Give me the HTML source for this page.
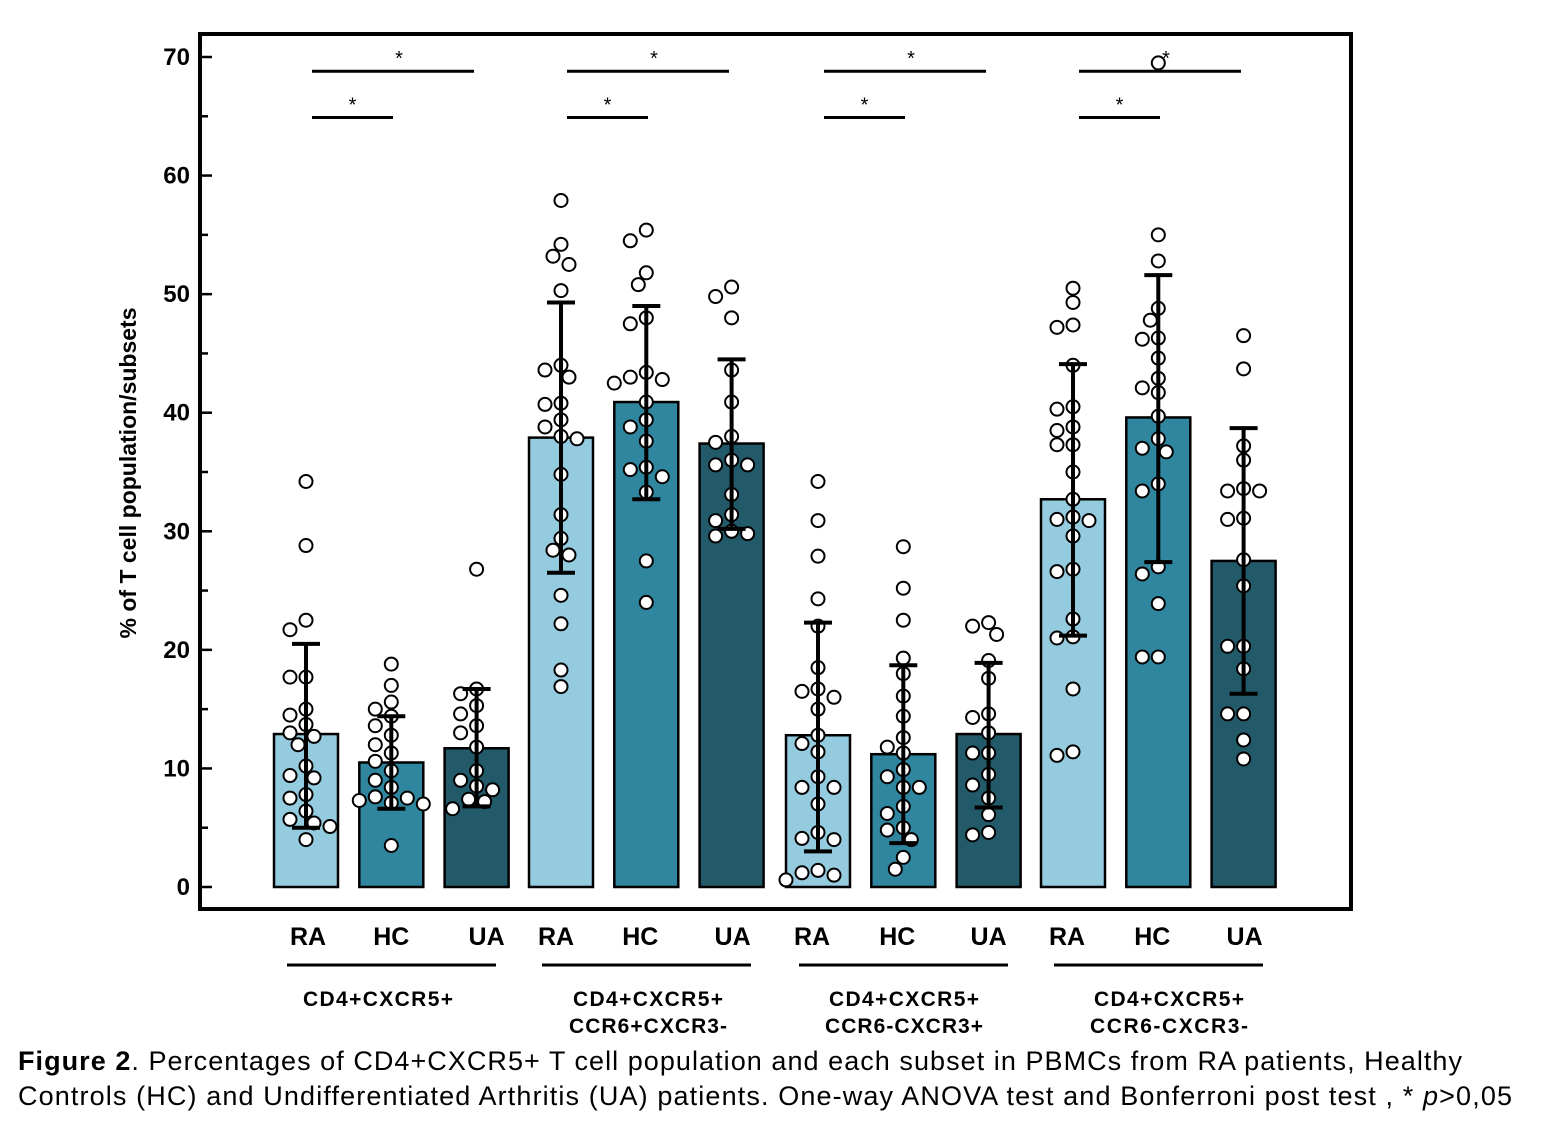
<!DOCTYPE html>
<html><head><meta charset="utf-8"><style>
body{margin:0;background:#fff;}
svg text{font-family:"Liberation Sans",Arial,sans-serif;}
</style></head><body>
<svg width="1553" height="1123" viewBox="0 0 1553 1123" xmlns="http://www.w3.org/2000/svg">
<g id="plot"></g>
<text x="18" y="1070" font-size="27" textLength="1444" lengthAdjust="spacing"><tspan font-weight="bold">Figure 2</tspan>. Percentages of CD4+CXCR5+  T cell population and each subset in PBMCs from RA patients, Healthy</text>
<text x="18" y="1105" font-size="27" textLength="1494" lengthAdjust="spacing">Controls (HC) and  Undifferentiated  Arthritis (UA) patients. One-way ANOVA  test and Bonferroni post test ,  * <tspan font-style="italic">p</tspan>&gt;0,05</text>
</svg>
<script>
const groups = ["CD4+CXCR5+", "CD4+CXCR5+|CCR6+CXCR3-", "CD4+CXCR5+|CCR6-CXCR3+", "CD4+CXCR5+|CCR6-CXCR3-"];
const cohorts = ["RA", "HC", "UA"];
const yTicks = [0, 10, 20, 30, 40, 50, 60, 70];
const means = [12.9, 10.5, 11.7, 37.9, 40.9, 37.4, 12.8, 11.2, 12.9, 32.7, 39.6, 27.5];
const errLow = [5.0, 6.6, 6.8, 26.5, 32.7, 30.2, 3.0, 3.7, 6.7, 21.2, 27.4, 16.3];
const errHigh = [20.5, 14.4, 16.7, 49.3, 49.0, 44.5, 22.3, 18.7, 18.9, 44.1, 51.6, 38.7];
const points = [
 [34.2,28.8,22.5,21.7,17.7,17.7,15.0,14.5,13.7,13.0,12.7,12.0,10.2,9.4,9.2,7.8,7.5,6.4,5.7,5.4,5.1,4.0],
 [18.8,17.0,15.6,15.0,14.4,13.6,12.8,12.0,11.3,10.6,9.8,9.0,8.4,7.6,7.5,7.3,7.1,7.0,3.5],
 [26.8,16.7,16.3,15.3,14.6,13.6,13.0,11.8,9.8,9.0,8.5,8.2,7.4,7.2,6.6],
 [57.9,54.2,53.2,52.5,50.3,44.0,43.6,43.0,40.8,40.7,39.4,38.8,38.0,37.8,34.8,31.4,29.4,28.4,28.0,24.6,22.2,18.3,16.9],
 [55.4,54.5,51.8,50.8,48.0,47.5,43.4,43.0,42.8,42.5,40.9,39.4,38.8,37.6,35.4,35.2,34.6,33.3,27.5,24.0],
 [50.6,49.8,48.0,43.6,40.9,38.0,37.5,36.0,35.6,35.6,33.1,31.4,30.9,30.0,29.8,29.6],
 [34.2,30.9,27.9,24.3,22.0,18.5,16.7,16.5,16.0,15.0,12.8,12.1,11.4,9.3,8.4,8.4,7.0,4.6,4.1,4.0,1.4,1.2,1.0,0.6],
 [28.7,25.2,22.5,19.3,18.0,16.1,14.4,12.6,11.8,11.3,9.9,9.3,8.4,8.4,6.8,6.2,5.0,4.8,4.0,2.5,1.5],
 [22.3,22.0,21.3,19.1,17.6,14.6,14.3,13.0,11.3,11.3,9.5,8.6,7.5,6.1,4.6,4.4],
 [50.5,49.3,47.4,47.2,44.0,40.5,40.3,38.8,38.5,37.3,37.3,35.0,32.7,31.2,31.0,30.9,29.6,26.8,26.6,22.6,21.1,21.0,16.7,11.4,11.1],
 [69.5,55.0,52.8,48.8,47.8,46.3,46.2,44.6,42.9,42.1,41.7,39.7,37.8,37.0,36.7,34.0,33.4,27.0,26.4,23.9,19.4,19.4],
 [46.5,43.7,37.2,36.0,33.6,33.4,33.4,31.1,31.0,27.6,25.4,20.3,20.3,18.4,14.6,14.6,12.4,10.8]
];
const sigLevels = [68.8, 64.9];
const sigLabels = ["*", "*"];

const NS="http://www.w3.org/2000/svg";
const g=document.getElementById('plot');
const y0=887, pxPer=830/70;
const yS=v=>y0-v*pxPer;
const groupStart=[306,561,818,1073], step=85.3;
const xS=i=>groupStart[Math.floor(i/3)]+(i%3)*step;
const labelOff=[[2,0,10],[-5,-6,1],[-6,-6,0],[-6,-6,1]];
const colors=["#95cbdf","#30869f","#235a69"];
function mk(tag,attrs,parent){const e=document.createElementNS(NS,tag);for(const k in attrs)e.setAttribute(k,attrs[k]);(parent||g).appendChild(e);return e;}

const fr=mk('rect',{x:200,y:34,width:1151,height:875,fill:'none',stroke:'#000','stroke-width':4});


for(let v=0;v<=70;v+=5){
 const major=v%10===0;
 const t=mk('line',{x1:200,x2:major?212:208,y1:yS(v),y2:yS(v),stroke:'#000','stroke-width':2.5});
 
 
}
yTicks.forEach(v=>{
 const t=mk('text',{x:190,y:yS(v)+8,'font-size':24,'font-weight':'bold','text-anchor':'end'});
 t.textContent=v;
 
 
});
const yt=mk('text',{x:0,y:0,'font-size':23,'font-weight':'bold','text-anchor':'middle',transform:'translate(136,473) rotate(-90)'});
yt.textContent='% of T cell population/subsets';



means.forEach((m,i)=>{
 const cx=xS(i);
 const b=mk('rect',{x:cx-32,y:yS(m),width:64,height:yS(0)-yS(m),fill:colors[i%3],stroke:'#000','stroke-width':2.5});
 
 
});
points.forEach((arr,i)=>{
 const cx=xS(i); const placed=[]; const r=6.5;
 arr.forEach(v=>{
  const py=yS(v); let off=0;
  const cands=[0];for(let k=1;k<6;k++){cands.push(-k*8,k*8);}
  for(const o of cands){ if(placed.every(p=>Math.hypot(p[0]-o,p[1]-py)>=2*r+1)){off=o;break;} }
  placed.push([off,py]);
  const c=mk('circle',{cx:cx+off,cy:py,r:r,fill:'#fff',stroke:'#000','stroke-width':2});
  
  
 });
});
means.forEach((m,i)=>{
 const cx=xS(i);
 const e=mk('path',{d:`M${cx},${yS(errLow[i])}V${yS(errHigh[i])}M${cx-14},${yS(errLow[i])}H${cx+14}M${cx-14},${yS(errHigh[i])}H${cx+14}`,stroke:'#000','stroke-width':4,fill:'none'});
 
 
});
const groupCenters=[378,648,904,1169];
groupStart.forEach((gs,gi)=>{
 const x1=gs+6;
 [[x1,x1+162],[x1,x1+81]].forEach((seg,k)=>{
  const yy=yS(sigLevels[k]);
  const l=mk('line',{x1:seg[0],x2:seg[1],y1:yy,y2:yy,stroke:'#000','stroke-width':3});
  
  
  const s=mk('text',{x:(seg[0]+seg[1])/2+(k===0?6:0),y:yy-6,'font-size':20,'text-anchor':'middle'});
  s.textContent=sigLabels[k];
  
  
 });
 cohorts.forEach((c,ci)=>{
  const t=mk('text',{x:xS(gi*3+ci)+labelOff[gi][ci],y:945,'font-size':25,'font-weight':'bold','text-anchor':'middle'});
  t.textContent=c;
  
  
 });
 const ul=mk('line',{x1:gs-19,x2:gs+190,y1:965,y2:965,stroke:'#000','stroke-width':3});
 
 
 groups[gi].split('|').forEach((ln,li)=>{
  const t=mk('text',{x:groupCenters[gi],y:1006+li*27,'font-size':21,'font-weight':'bold','text-anchor':'middle',textLength:li===0?150:158,lengthAdjust:'spacing'});
  t.textContent=ln;
  
  
 });
});
</script>
</body></html>
